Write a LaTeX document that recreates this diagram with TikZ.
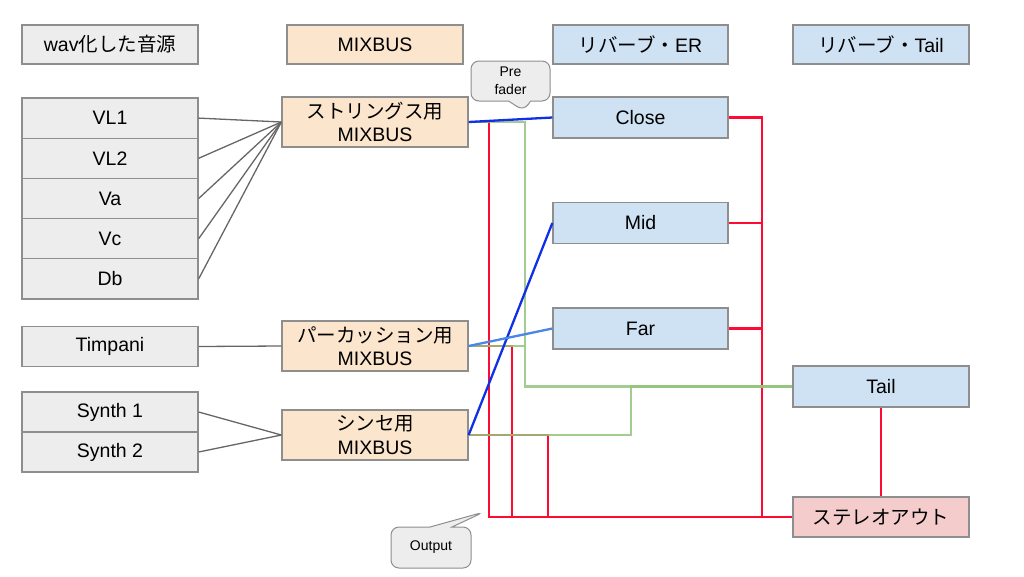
\documentclass[tikz,border=0pt]{standalone}
\usepackage{fontspec}
\setmainfont{Liberation Sans}
\newfontfamily\jpfont{Noto Sans CJK JP}
\usetikzlibrary{calc,shapes.callouts}
\definecolor{srcgray}{HTML}{EDEDED}
\definecolor{busorange}{HTML}{FCE5CD}
\definecolor{revblue}{HTML}{CFE2F3}
\definecolor{outpink}{HTML}{F4CCCC}
\definecolor{boxborder}{HTML}{8E8E8E}
\definecolor{sendred}{HTML}{FF0A33}
\definecolor{sendgreen}{HTML}{93C47D}
\definecolor{senddark}{HTML}{1030E8}
\definecolor{sendlight}{HTML}{4A86E8}
\newcommand{\jp}[1]{{\jpfont #1}}

\begin{document}
\begin{tikzpicture}[x=1pt,y=-1pt]
    \tikzstyle{box}=[draw=boxborder, line width=1.3pt, minimum width=176pt, minimum height=39pt, inner sep=0pt, align=center, font=\fontsize{19.5}{23.5}\selectfont]
    \tikzstyle{source}=[box, fill=srcgray, minimum height=40.2pt]
    \tikzstyle{bus}=[box, fill=busorange, minimum width=186pt, minimum height=50pt]
    \tikzstyle{reverb}=[box, fill=revblue, minimum width=175pt, minimum height=41pt]
    \tikzstyle{master}=[box, fill=outpink, minimum height=40pt]
    \tikzstyle{note}=[rectangle callout, rounded corners=8pt, draw=boxborder, line width=1pt, fill=srcgray, minimum width=79pt, minimum height=40pt, inner sep=0pt, callout pointer width=22pt, align=center, font=\fontsize{14}{18}\selectfont]
    \tikzstyle{feed}=[draw=black!60, line width=1.3pt]
    \tikzstyle{wet}=[draw=sendgreen, line width=2.3pt, opacity=0.85]
    \tikzstyle{dry}=[draw=sendred, line width=2.3pt]
    \tikzstyle{er}=[draw=senddark, line width=2.3pt]
    \tikzstyle{erfar}=[draw=sendlight, line width=2.3pt]

    \useasboundingbox (0,0) rectangle (1024,576);

    % Draw the header row
    \node[box, fill=srcgray] (hdrSrc) at (110,44.5) {wav\jp{化した音源}};
    \node[box, fill=busorange] (hdrBus) at (375,44.5) {MIXBUS};
    \node[box, fill=revblue, minimum width=175pt] (hdrER) at (640.5,44.5) {\jp{リバーブ・}ER};
    \node[box, fill=revblue] (hdrTail) at (881,44.5) {\jp{リバーブ・}Tail};

    % Draw the source tracks
    \foreach \name / \y in {VL1/118.1, VL2/158.3, Va/198.5, Vc/238.7, Db/278.9}
        \node[source] (\name) at (110,\y) {\name};
    \node[source] (Timp) at (110,346.5) {Timpani};
    \node[source] (Syn1) at (110,412) {Synth 1};
    \node[source] (Syn2) at (110,452) {Synth 2};

    % Draw the mix buses
    \node[bus] (strBus) at (375,122) {\jp{ストリングス用}\\MIXBUS};
    \node[bus] (percBus) at (375,346) {\jp{パーカッション用}\\MIXBUS};
    \node[bus] (synBus) at (375,435) {\jp{シンセ用}\\MIXBUS};

    % Draw the reverbs and the output
    \node[reverb] (Close) at (640.5,117.5) {Close};
    \node[reverb] (Mid) at (640.5,223) {Mid};
    \node[reverb] (Far) at (640.5,328.5) {Far};
    \node[reverb, minimum width=176pt] (Tail) at (881,386.5) {Tail};
    \node[master] (Stereo) at (881,517) {\jp{ステレオアウト}};

    % Tracks into buses
    \foreach \name in {VL1,VL2,Va,Vc,Db}
        \draw[feed] (\name.east) -- (strBus.west);
    \draw[feed] (Timp.east) -- (percBus.west);
    \draw[feed] (Syn1.east) -- (synBus.west);
    \draw[feed] (Syn2.east) -- (synBus.west);

    % Dry sends to the output
    \coordinate (dryS) at (489,517);
    \coordinate (dryP) at (512,517);
    \coordinate (dryY) at (548,517);
    \coordinate (dryR) at (762,517);
    \draw[dry] (strBus.east) -| (dryS) -- (Stereo.west);
    \draw[dry] (percBus.east) -| (dryP);
    \draw[dry] (synBus.east) -| (dryY);
    \foreach \name in {Close,Mid,Far}
        \draw[dry] (\name.east) -| (dryR);
    \draw[dry] (Tail.south) -- (Stereo.north);

    % Sends to the tail reverb
    \coordinate (wetS) at (525,386.5);
    \coordinate (wetP) at (525,346);
    \coordinate (wetY) at (631,435);
    \draw[wet] (strBus.east) -| (wetS) -- (Tail.west);
    \draw[wet] (percBus.east) -- (wetP);
    \draw[wet] (synBus.east) -- (wetY) |- (Tail.west);

    % Sends to the early reflections
    \draw[er] (strBus.east) -- (Close.west);
    \draw[er] (synBus.east) -- (Mid.west);
    \draw[erfar] (percBus.east) -- (Far.west);

    % Notes
    \coordinate (preTip) at (524,111);
    \coordinate (outTip) at (484,512);
    \node[note, callout absolute pointer=(preTip)] (preNote) at (510.5,81) {Pre\\fader};
    \node[note, minimum width=80pt, minimum height=41pt, callout absolute pointer=(outTip)] (outNote) at (431,547.5) {Output};
\end{tikzpicture}
\end{document}
